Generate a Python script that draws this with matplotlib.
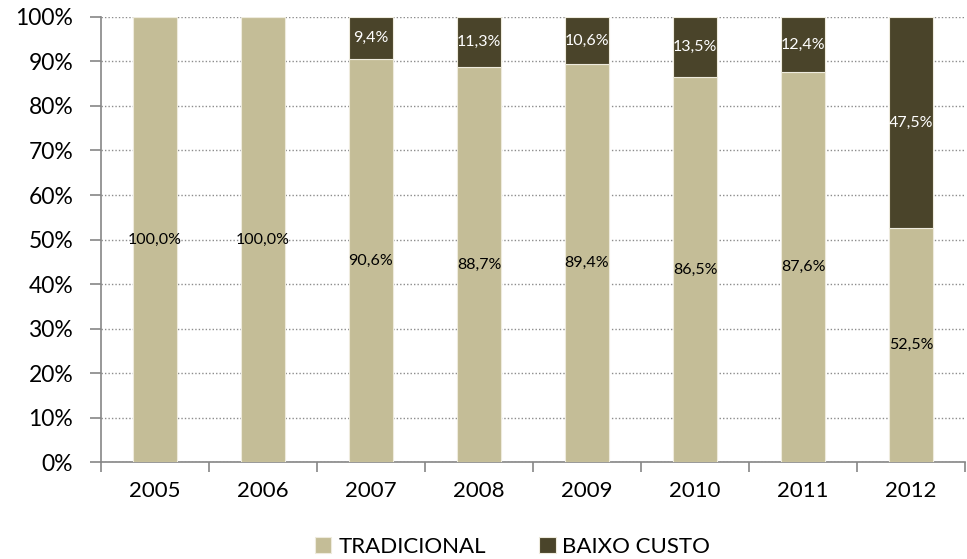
import matplotlib.pyplot as plt
import numpy as np

anos = ["2005", "2006", "2007", "2008", "2009", "2010", "2011", "2012"]
tradicional = [100.0, 100.0, 90.6, 88.7, 89.4, 86.5, 87.6, 52.5]
baixo_custo = [0.0, 0.0, 9.4, 11.3, 10.6, 13.5, 12.4, 47.5]

cor_trad = "#C4BD97"
cor_baixo = "#4A442A"

plt.rcParams['font.family'] = ['Lato', 'DejaVu Sans']

fig = plt.figure(figsize=(9.67, 5.59), dpi=100)
ax = fig.add_axes([0.1044, 0.1735, 0.8936, 0.7961])

x = np.arange(len(anos))
b1 = ax.bar(x, tradicional, width=0.41, color=cor_trad, edgecolor="#EEEBDD",
            linewidth=0.8, label="TRADICIONAL", zorder=3)
b2 = ax.bar(x, baixo_custo, width=0.41, bottom=tradicional, color=cor_baixo,
            edgecolor="#EEEBDD", linewidth=0.8, label="BAIXO CUSTO", zorder=3)

fmt = lambda v: ("%.1f%%" % v).replace(".", ",")
ax.bar_label(b1, labels=[fmt(v) for v in tradicional], label_type="center",
             fontsize=11.5, color="black", zorder=4)
ax.bar_label(b2, labels=[fmt(v) if v > 0 else "" for v in baixo_custo],
             label_type="center", fontsize=11.5, color="white", zorder=4)

ax.set_xlim(-0.5, len(anos) - 0.5)
ax.set_ylim(0, 100)
ax.set_yticks(np.arange(0, 101, 10))
ax.set_yticklabels(["%d%%" % v for v in range(0, 101, 10)], fontsize=16.5)
ax.yaxis.grid(True, linestyle=(0, (1, 1.5)), color="#8C8C8C", linewidth=1.0, zorder=0)

ax.set_xticks(x)
ax.set_xticklabels(anos, fontsize=16)
ax.set_xticks(np.arange(-0.5, len(anos), 1), minor=True)
ax.tick_params(axis="x", which="major", length=0, pad=14)
ax.tick_params(axis="x", which="minor", length=7, width=1.2, color="#868686")
ax.tick_params(axis="y", length=8, width=1.2, color="#868686", pad=12, direction="out")

for s in ["top", "right"]:
    ax.spines[s].set_visible(False)
for s in ["left", "bottom"]:
    ax.spines[s].set_color("#868686")
    ax.spines[s].set_linewidth(1.2)

leg = fig.legend(handles=[b1, b2], loc="center", bbox_to_anchor=(0.53, 0.022),
                 ncol=2, frameon=False, fontsize=16, handlelength=0.75,
                 handleheight=0.75, columnspacing=2.4, handletextpad=0.3)

fig.savefig("out.png", dpi=100)
